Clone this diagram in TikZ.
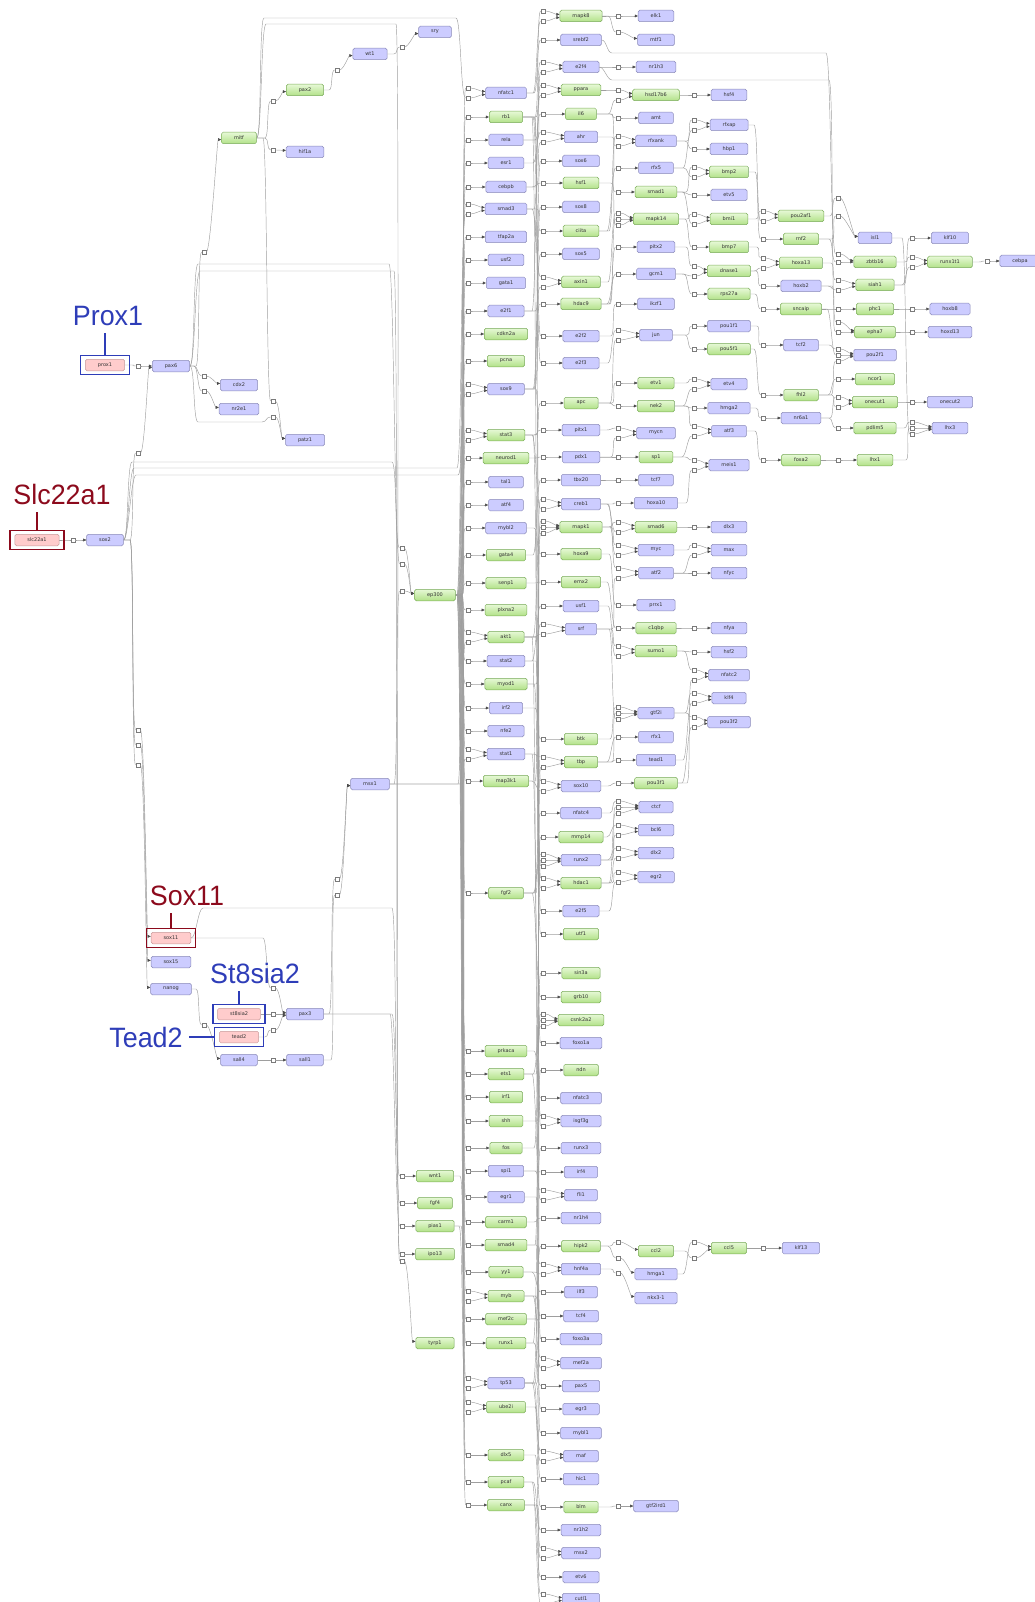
\documentclass[tikz,border=0pt]{standalone}
\usepackage{fontspec}
\usepackage{xcolor}
\usepackage{tikz}
\usetikzlibrary{arrows.meta,fit}
\newfontfamily\genefont{DejaVu Sans}
\newfontfamily\tagfont[FakeStretch=0.96]{Liberation Sans}
\newcommand{\genesize}{\genefont\fontsize{5pt}{6pt}\selectfont}
\newcommand{\tagsize}{\tagfont\fontsize{28pt}{30pt}\selectfont}
\definecolor{GNLav}{HTML}{CCCCFF}
\definecolor{GNLavLine}{HTML}{8A8AB8}
\definecolor{GNGreenTop}{HTML}{E6F8D6}
\definecolor{GNGreenBot}{HTML}{B2E288}
\definecolor{GNGreenLine}{HTML}{7DAF58}
\definecolor{GNPink}{HTML}{FFCCCC}
\definecolor{GNPinkLine}{HTML}{C89A9A}
\definecolor{GNWire}{HTML}{9E9E9E}
\definecolor{GNProcLine}{HTML}{7A7A7A}
\definecolor{GNTip}{HTML}{4A4A4A}
\definecolor{GNMarkBlue}{HTML}{2E3DB8}
\definecolor{GNMarkRed}{HTML}{8C0A1C}
\pgfdeclarelayer{back}
\pgfsetlayers{back,main}
\newcount\portno
% [shift of the square]{from}{to}{x of the square}{gap before the square}
\newcommand{\flow}[5][0]{%
  \global\advance\portno by 1
  \node[proc,yshift={-(#1)}] (q\the\portno) at (#4,0 |- #3) {};
  \draw[wire] (#2.east) -- ({#4-#5},0 |- #2.east) .. controls +(4,0) and +(-4,0) .. (q\the\portno.west);
  \draw[wire,feed] (q\the\portno.east) .. controls +(4,0) and +(-4,0) .. ([yshift={-1.6*sign(#1)}]#3.west);
}
% same, but routed along a track: {x start}{track y}{x end}
\newcommand{\relay}[7][0]{%
  \global\advance\portno by 1
  \node[proc,yshift={-(#1)}] (q\the\portno) at (#4,0 |- #3) {};
  \draw[wire] (#2.east) .. controls +(5,0) and +(-5,0) .. (#5,#6) -- (#7,#6) .. controls +(5,0) and +(-5,0) .. (q\the\portno.west);
  \draw[wire,feed] (q\the\portno.east) .. controls +(4,0) and +(-4,0) .. ([yshift={-1.6*sign(#1)}]#3.west);
}

\begin{document}
\begin{tikzpicture}[x=1pt,y=-1pt,
  lav/.style={draw=GNLavLine,fill=GNLav,rounded corners=1.6pt,line width=0.5pt,minimum height=11.5pt,minimum width=30pt,inner xsep=12.5pt,inner ysep=0pt,text=black!80,font=\genesize},
  grn/.style={lav,draw=GNGreenLine,top color=GNGreenTop,bottom color=GNGreenBot},
  pnk/.style={lav,draw=GNPinkLine,fill=GNPink},
  proc/.style={draw=GNProcLine,fill=white,line width=0.4pt,minimum size=4.5pt,inner sep=0pt},
  wire/.style={draw=GNWire,line width=0.45pt},
  feed/.style={-{Triangle[length=3.2pt,width=2.8pt,color=GNTip]}},
  markbox/.style={draw=#1,line width=1.5pt,inner xsep=4.5pt,inner ysep=3.7pt},
  marktag/.style={text=#1,font=\tagsize,inner xsep=6pt,inner ysep=8pt,anchor=base}]
\path[use as bounding box] (0,0) rectangle (1034,1602);
% left part
\node[pnk] (slc22a1) at (37,540) {slc22a1};
\node[pnk] (prox1) at (105,365) {prox1};
\node[lav] (sox2) at (105,540) {sox2};
\node[lav] (pax6) at (171,366) {pax6};
\node[pnk] (sox11) at (171,938) {sox11};
\node[lav] (sox15) at (171,962) {sox15};
\node[lav] (nanog) at (171,989) {nanog};
\node[grn] (mitf) at (239,138) {mitf};
\node[lav] (cdx2) at (239,385) {cdx2};
\node[lav] (nr2e1) at (239,409) {nr2e1};
\node[pnk] (st8sia2) at (239,1014) {st8sia2};
\node[pnk] (tead2) at (239,1037) {tead2};
\node[lav] (sall4) at (239,1060) {sall4};
\node[grn] (pax2) at (305,90) {pax2};
\node[lav] (hif1a) at (305,152) {hif1a};
\node[lav] (patz1) at (305,440) {patz1};
\node[lav] (pax3) at (305,1014) {pax3};
\node[lav] (sall1) at (305,1060) {sall1};
\node[lav] (wt1) at (370,54) {wt1};
\node[lav] (msx1) at (370,784) {msx1};
\node[lav] (sry) at (435,32) {sry};
\node[grn] (ep300) at (435,595) {ep300};
\node[grn] (wnt1) at (435,1176) {wnt1};
\node[grn] (fgf4) at (435,1203) {fgf4};
\node[grn] (pias1) at (435,1226) {pias1};
\node[grn] (ipo13) at (435,1254) {ipo13};
\node[grn] (tyrp1) at (435,1343) {tyrp1};
% column A
\node[lav] (nfatc1) at (506,93) {nfatc1};
\node[grn] (rb1) at (506,117) {rb1};
\node[lav] (rela) at (506,140) {rela};
\node[lav] (esr1) at (506,163) {esr1};
\node[lav] (cebpb) at (506,187) {cebpb};
\node[lav] (smad3) at (506,209) {smad3};
\node[lav] (tfap2a) at (506,237) {tfap2a};
\node[lav] (usf2) at (506,260) {usf2};
\node[lav] (gata1) at (506,283) {gata1};
\node[lav] (e2f1) at (506,311) {e2f1};
\node[grn] (cdkn2a) at (506,334) {cdkn2a};
\node[grn] (pcna) at (506,361) {pcna};
\node[lav] (sox9) at (506,389) {sox9};
\node[grn] (stat3) at (506,435) {stat3};
\node[grn] (neurod1) at (506,458) {neurod1};
\node[lav] (tal1) at (506,482) {tal1};
\node[lav] (atf4) at (506,505) {atf4};
\node[lav] (mybl2) at (506,528) {mybl2};
\node[grn] (gata4) at (506,555) {gata4};
\node[grn] (senp1) at (506,583) {senp1};
\node[grn] (plxna2) at (506,610) {plxna2};
\node[grn] (akt1) at (506,637) {akt1};
\node[lav] (stat2) at (506,661) {stat2};
\node[grn] (myod1) at (506,684) {myod1};
\node[lav] (irf2) at (506,708) {irf2};
\node[lav] (nfe2) at (506,731) {nfe2};
\node[lav] (stat1) at (506,754) {stat1};
\node[grn] (map3k1) at (506,781) {map3k1};
\node[grn] (fgf2) at (506,893) {fgf2};
\node[grn] (prkaca) at (506,1051) {prkaca};
\node[grn] (ets1) at (506,1074) {ets1};
\node[grn] (irf1) at (506,1097) {irf1};
\node[grn] (shh) at (506,1121) {shh};
\node[grn] (fos) at (506,1148) {fos};
\node[lav] (spi1) at (506,1171) {spi1};
\node[lav] (egr1) at (506,1197) {egr1};
\node[grn] (carm1) at (506,1222) {carm1};
\node[grn] (smad4) at (506,1245) {smad4};
\node[grn] (yy1) at (506,1272) {yy1};
\node[grn] (myb) at (506,1296) {myb};
\node[grn] (mef2c) at (506,1319) {mef2c};
\node[grn] (runx1) at (506,1343) {runx1};
\node[lav] (tp53) at (506,1383) {tp53};
\node[grn] (ube2i) at (506,1407) {ube2i};
\node[grn] (dlx5) at (506,1455) {dlx5};
\node[grn] (pcaf) at (506,1482) {pcaf};
\node[grn] (canx) at (506,1505) {canx};
% column B
\node[grn] (mapk8) at (581,16) {mapk8};
\node[lav] (srebf2) at (581,40) {srebf2};
\node[lav] (e2f4) at (581,67) {e2f4};
\node[grn] (ppara) at (581,90) {ppara};
\node[grn] (il6) at (581,114) {il6};
\node[lav] (ahr) at (581,137) {ahr};
\node[lav] (sox6) at (581,161) {sox6};
\node[grn] (hsf1) at (581,183) {hsf1};
\node[lav] (sox8) at (581,207) {sox8};
\node[grn] (ciita) at (581,231) {ciita};
\node[lav] (sox5) at (581,254) {sox5};
\node[grn] (axin1) at (581,282) {axin1};
\node[grn] (hdac9) at (581,304) {hdac9};
\node[lav] (e2f2) at (581,336) {e2f2};
\node[lav] (e2f3) at (581,363) {e2f3};
\node[grn] (apc) at (581,403) {apc};
\node[lav] (pitx1) at (581,430) {pitx1};
\node[lav] (pdx1) at (581,457) {pdx1};
\node[lav] (tbx20) at (581,480) {tbx20};
\node[lav] (creb1) at (581,504) {creb1};
\node[grn] (mapk1) at (581,527) {mapk1};
\node[grn] (hoxa9) at (581,554) {hoxa9};
\node[grn] (emx2) at (581,582) {emx2};
\node[lav] (usf1) at (581,606) {usf1};
\node[lav] (srf) at (581,629) {srf};
\node[grn] (btk) at (581,739) {btk};
\node[grn] (tbp) at (581,762) {tbp};
\node[lav] (sox10) at (581,786) {sox10};
\node[lav] (nfatc4) at (581,813) {nfatc4};
\node[grn] (mmp14) at (581,837) {mmp14};
\node[lav] (runx2) at (581,860) {runx2};
\node[grn] (hdac1) at (581,883) {hdac1};
\node[lav] (e2f5) at (581,911) {e2f5};
\node[grn] (utf1) at (581,934) {utf1};
\node[grn] (sin3a) at (581,973) {sin3a};
\node[grn] (grb10) at (581,997) {grb10};
\node[grn] (csnk2a2) at (581,1020) {csnk2a2};
\node[lav] (foxo1a) at (581,1043) {foxo1a};
\node[grn] (ndn) at (581,1070) {ndn};
\node[lav] (nfatc3) at (581,1098) {nfatc3};
\node[lav] (isgf3g) at (581,1121) {isgf3g};
\node[lav] (runx3) at (581,1148) {runx3};
\node[lav] (irf4) at (581,1172) {irf4};
\node[lav] (fli1) at (581,1195) {fli1};
\node[lav] (nr1h4) at (581,1218) {nr1h4};
\node[grn] (hipk2) at (581,1246) {hipk2};
\node[lav] (hnf4a) at (581,1269) {hnf4a};
\node[lav] (ilf3) at (581,1292) {ilf3};
\node[lav] (tcf4) at (581,1316) {tcf4};
\node[lav] (foxo3a) at (581,1339) {foxo3a};
\node[lav] (mef2a) at (581,1363) {mef2a};
\node[lav] (pax5) at (581,1386) {pax5};
\node[lav] (egr3) at (581,1409) {egr3};
\node[lav] (mybl1) at (581,1433) {mybl1};
\node[lav] (maf) at (581,1456) {maf};
\node[lav] (hic1) at (581,1479) {hic1};
\node[grn] (blm) at (581,1507) {blm};
\node[lav] (nr1h2) at (581,1530) {nr1h2};
\node[lav] (msx2) at (581,1553) {msx2};
\node[lav] (etv6) at (581,1577) {etv6};
\node[lav] (cutl1) at (581,1599) {cutl1};
% column C
\node[lav] (elk1) at (656,16) {elk1};
\node[lav] (mtf1) at (656,40) {mtf1};
\node[lav] (nr1h3) at (656,67) {nr1h3};
\node[grn] (hsd17b6) at (656,95) {hsd17b6};
\node[lav] (amt) at (656,118) {amt};
\node[lav] (rfxank) at (656,141) {rfxank};
\node[lav] (rfx5) at (656,168) {rfx5};
\node[grn] (smad1) at (656,192) {smad1};
\node[grn] (mapk14) at (656,219) {mapk14};
\node[lav] (pitx2) at (656,247) {pitx2};
\node[lav] (gcm1) at (656,274) {gcm1};
\node[lav] (ikzf1) at (656,304) {ikzf1};
\node[lav] (jun) at (656,335) {jun};
\node[grn] (etv1) at (656,383) {etv1};
\node[grn] (nek2) at (656,406) {nek2};
\node[lav] (mycn) at (656,433) {mycn};
\node[grn] (sp1) at (656,457) {sp1};
\node[lav] (tcf7) at (656,480) {tcf7};
\node[lav] (hoxa10) at (656,503) {hoxa10};
\node[grn] (smad6) at (656,527) {smad6};
\node[lav] (myc) at (656,550) {myc};
\node[lav] (atf2) at (656,573) {atf2};
\node[lav] (prrx1) at (656,605) {prrx1};
\node[grn] (c1qbp) at (656,628) {c1qbp};
\node[grn] (sumo1) at (656,651) {sumo1};
\node[lav] (gtf2i) at (656,713) {gtf2i};
\node[lav] (rfx1) at (656,737) {rfx1};
\node[lav] (tead1) at (656,760) {tead1};
\node[grn] (pou3f1) at (656,783) {pou3f1};
\node[lav] (ctcf) at (656,807) {ctcf};
\node[lav] (bcl6) at (656,830) {bcl6};
\node[lav] (dlx2) at (656,853) {dlx2};
\node[lav] (egr2) at (656,877) {egr2};
\node[grn] (ccl2) at (656,1251) {ccl2};
\node[lav] (hmga1) at (656,1274) {hmga1};
\node[lav] (nkx31) at (656,1298) {nkx3-1};
\node[lav] (gtf2ird1) at (656,1506) {gtf2ird1};
% column D
\node[lav] (hsf4) at (729,95) {hsf4};
\node[lav] (rfxap) at (729,125) {rfxap};
\node[lav] (hbp1) at (729,149) {hbp1};
\node[grn] (bmp2) at (729,172) {bmp2};
\node[lav] (etv5) at (729,195) {etv5};
\node[grn] (bmi1) at (729,219) {bmi1};
\node[grn] (bmp7) at (729,247) {bmp7};
\node[grn] (dnase1) at (729,271) {dnase1};
\node[grn] (rps27a) at (729,294) {rps27a};
\node[lav] (pou1f1) at (729,326) {pou1f1};
\node[grn] (pou5f1) at (729,349) {pou5f1};
\node[lav] (etv4) at (729,384) {etv4};
\node[lav] (hmga2) at (729,408) {hmga2};
\node[lav] (atf3) at (729,431) {atf3};
\node[lav] (meis1) at (729,465) {meis1};
\node[lav] (dlx3) at (729,527) {dlx3};
\node[lav] (max) at (729,550) {max};
\node[lav] (nfyc) at (729,573) {nfyc};
\node[lav] (nfya) at (729,628) {nfya};
\node[lav] (hsf2) at (729,652) {hsf2};
\node[lav] (nfatc2) at (729,675) {nfatc2};
\node[lav] (klf4) at (729,698) {klf4};
\node[lav] (pou3f2) at (729,722) {pou3f2};
\node[grn] (ccl5) at (729,1248) {ccl5};
% column E
\node[grn] (pou2af1) at (801,216) {pou2af1};
\node[grn] (rnf2) at (801,239) {rnf2};
\node[grn] (hoxa13) at (801,263) {hoxa13};
\node[lav] (hoxb2) at (801,286) {hoxb2};
\node[grn] (sncaip) at (801,309) {sncaip};
\node[lav] (tcf2) at (801,345) {tcf2};
\node[grn] (fhl2) at (801,395) {fhl2};
\node[lav] (nr6a1) at (801,418) {nr6a1};
\node[grn] (foxa2) at (801,460) {foxa2};
\node[lav] (klf13) at (801,1248) {klf13};
% column F
\node[lav] (isl1) at (875,238) {isl1};
\node[grn] (zbtb16) at (875,262) {zbtb16};
\node[grn] (siah1) at (875,285) {siah1};
\node[grn] (phc1) at (875,309) {phc1};
\node[grn] (epha7) at (875,332) {epha7};
\node[lav] (pou2f1) at (875,355) {pou2f1};
\node[grn] (ncor1) at (875,379) {ncor1};
\node[grn] (onecut1) at (875,402) {onecut1};
\node[grn] (pdlim5) at (875,428) {pdlim5};
\node[grn] (lhx1) at (875,460) {lhx1};
% columns G and H
\node[lav] (klf10) at (950,238) {klf10};
\node[grn] (runx1t1) at (950,262) {runx1t1};
\node[lav] (hoxb8) at (950,309) {hoxb8};
\node[lav] (hoxd13) at (950,332) {hoxd13};
\node[lav] (onecut2) at (950,402) {onecut2};
\node[lav] (lhx3) at (950,428) {lhx3};
\node[lav] (cebpa) at (1020,261) {cebpa};
% marked genes
\node[markbox=GNMarkBlue,fit=(prox1)] (prox1box) {};
\node[marktag=GNMarkBlue] (prox1tag) at (108,325) {Prox1};
\draw[GNMarkBlue,line width=1.5pt] (prox1box.north) -- (prox1box.north |- prox1tag.south);
\node[markbox=GNMarkRed,fit=(slc22a1)] (slc22a1box) {};
\node[marktag=GNMarkRed] (slc22a1tag) at (62,504) {Slc22a1};
\draw[GNMarkRed,line width=1.5pt] (slc22a1box.north) -- (slc22a1box.north |- slc22a1tag.south);
\node[markbox=GNMarkRed,fit=(sox11)] (sox11box) {};
\node[marktag=GNMarkRed] (sox11tag) at (187,905) {Sox11};
\draw[GNMarkRed,line width=1.5pt] (sox11box.north) -- (sox11box.north |- sox11tag.south);
\node[markbox=GNMarkBlue,fit=(st8sia2)] (st8sia2box) {};
\node[marktag=GNMarkBlue] (st8sia2tag) at (255,983) {St8sia2};
\draw[GNMarkBlue,line width=1.5pt] (st8sia2box.north) -- (st8sia2box.north |- st8sia2tag.south);
\node[markbox=GNMarkBlue,fit=(tead2)] (tead2box) {};
\node[marktag=GNMarkBlue] (tead2tag) at (146,1047) {Tead2};
\draw[GNMarkBlue,line width=1.5pt] (tead2box.west) -- (tead2tag.east |- tead2box.west);

\begin{pgfonlayer}{back}
% left part
\flow{slc22a1}{sox2}{73}{8}
\flow{prox1}{pax6}{138}{6} \flow[87]{sox2}{pax6}{138}{8}
\flow[-208]{sox2}{sox11}{138}{8} \flow[-217]{sox2}{sox15}{138}{8} \flow[-224]{sox2}{nanog}{138}{8}
\flow[114]{pax6}{mitf}{204}{8} \flow[-9]{pax6}{cdx2}{204}{10} \flow[-18]{pax6}{nr2e1}{204}{10}
\flow[-35]{nanog}{sall4}{204}{8}
\flow[11]{mitf}{pax2}{273}{8} \flow[-2]{mitf}{hif1a}{273}{8} \flow[-39]{mitf}{patz1}{273}{10}
\relay[-23]{pax6}{patz1}{273}{198}{422}{262}
\flow{st8sia2}{pax3}{273}{8} \flow[16]{tead2}{pax3}{273}{8} \flow[-26]{sox11}{pax3}{273}{10}
\flow{sall4}{sall1}{273}{8}
\flow[16]{pax2}{wt1}{337}{8}
\flow[95]{pax3}{msx1}{337}{8} \flow[111]{sall1}{msx1}{337}{6}
\flow[15]{wt1}{sry}{402}{8}
\relay[-47]{sox2}{ep300}{402}{132}{462}{392}
\relay[-31]{pax6}{ep300}{402}{198}{264}{389}
\flow[-4]{msx1}{ep300}{402}{8}
\flow{pax3}{wnt1}{402}{10} \flow{pax3}{pias1}{402}{12}
\relay{sox11}{fgf4}{402}{203}{908}{392}
\relay{pax6}{ipo13}{402}{200}{271}{394}
\relay[-82]{mitf}{tyrp1}{402}{266}{24}{396}
% column A
\flow[-5]{ep300}{nfatc1}{468}{6} \relay[5]{mitf}{nfatc1}{468}{264}{18}{456}
\flow{ep300}{rb1}{468}{7} \flow{ep300}{rela}{468}{8} \flow{ep300}{esr1}{468}{9}
\flow{ep300}{cebpb}{468}{10}
\flow[-5]{ep300}{smad3}{468}{11} \relay[5]{sox2}{smad3}{468}{134}{468}{457}
\flow{ep300}{tfap2a}{468}{6} \flow{ep300}{usf2}{468}{7} \flow{ep300}{gata1}{468}{8}
\flow{ep300}{e2f1}{468}{9} \flow{ep300}{cdkn2a}{468}{10} \flow{ep300}{pcna}{468}{11}
\flow[-5]{ep300}{sox9}{468}{6} \relay[5]{sox2}{sox9}{468}{136}{475}{458}
\flow[-5]{ep300}{stat3}{468}{7} \flow[5]{msx1}{stat3}{468}{10}
\flow{ep300}{neurod1}{468}{8} \flow{ep300}{tal1}{468}{9} \flow{ep300}{atf4}{468}{10}
\flow{ep300}{mybl2}{468}{11} \flow{ep300}{gata4}{468}{6} \flow{ep300}{senp1}{468}{7}
\flow{ep300}{plxna2}{468}{8}
\flow[-5]{ep300}{akt1}{468}{9} \flow[5]{msx1}{akt1}{468}{8}
\flow{ep300}{stat2}{468}{10} \flow{ep300}{myod1}{468}{11} \flow{ep300}{irf2}{468}{6}
\flow{ep300}{nfe2}{468}{7}
\flow[-5]{ep300}{stat1}{468}{8} \flow[5]{msx1}{stat1}{468}{6}
\flow{ep300}{map3k1}{468}{9} \flow{ep300}{fgf2}{468}{10} \flow{ep300}{prkaca}{468}{11}
\flow{ep300}{ets1}{468}{6} \flow{ep300}{irf1}{468}{7} \flow{ep300}{shh}{468}{8}
\flow{ep300}{fos}{468}{9} \flow{ep300}{spi1}{468}{10} \flow{ep300}{egr1}{468}{11}
\flow{ep300}{carm1}{468}{6} \flow{ep300}{smad4}{468}{7} \flow{ep300}{yy1}{468}{8}
\flow[-5]{ep300}{myb}{468}{9} \flow[5]{wnt1}{myb}{468}{8}
\flow{ep300}{mef2c}{468}{10} \flow{ep300}{runx1}{468}{11}
\flow[-5]{ep300}{tp53}{468}{6} \flow[5]{pias1}{tp53}{468}{9}
\flow[-5]{ep300}{ube2i}{468}{7} \flow[5]{pias1}{ube2i}{468}{7}
\flow{ep300}{dlx5}{468}{8} \flow{ep300}{pcaf}{468}{9} \flow{ep300}{canx}{468}{10}
% column B
\flow[-5]{rb1}{mapk8}{543}{8} \flow[5]{nfatc1}{mapk8}{543}{10}
\flow{nfatc1}{srebf2}{543}{9}
\flow[-5]{rb1}{e2f4}{543}{7} \flow[5]{e2f1}{e2f4}{543}{11}
\flow[-5]{smad3}{ppara}{543}{9} \flow[5]{rela}{ppara}{543}{6}
\flow{rela}{il6}{543}{8}
\flow[-5]{esr1}{ahr}{543}{10} \flow[5]{cebpb}{ahr}{543}{7}
\flow{sox9}{sox6}{543}{9} \flow{cebpb}{hsf1}{543}{11} \flow{sox9}{sox8}{543}{8}
\flow{smad3}{ciita}{543}{6} \flow{sox9}{sox5}{543}{10}
\flow[-5]{smad3}{axin1}{543}{11} \flow[5]{e2f1}{axin1}{543}{8}
\flow{e2f1}{hdac9}{543}{6} \flow{rb1}{e2f2}{543}{9} \flow{rb1}{e2f3}{543}{10}
\flow{stat3}{apc}{543}{7} \flow{stat3}{pitx1}{543}{9} \flow{neurod1}{pdx1}{543}{7}
\flow{gata4}{tbx20}{543}{10}
\flow[-5]{akt1}{creb1}{543}{6} \flow[5]{stat3}{creb1}{543}{11}
\flow[-6]{map3k1}{mapk1}{543}{8} \flow{akt1}{mapk1}{543}{10} \flow[6]{fgf2}{mapk1}{543}{7}
\flow{mybl2}{hoxa9}{543}{9} \flow{senp1}{emx2}{543}{8} \flow{stat2}{usf1}{543}{11}
\flow[-5]{myod1}{srf}{543}{7} \flow[5]{akt1}{srf}{543}{9}
\flow{irf2}{btk}{543}{8}
\flow[-5]{stat1}{tbp}{543}{10} \flow[5]{tp53}{tbp}{543}{6}
\flow[-5]{sox9}{sox10}{543}{7} \flow[5]{map3k1}{sox10}{543}{11}
\flow{fgf2}{nfatc4}{543}{9} \flow{ets1}{mmp14}{543}{7}
\flow[-6]{fgf2}{runx2}{543}{10} \flow{smad4}{runx2}{543}{8} \flow[6]{akt1}{runx2}{543}{6}
\flow[-5]{rb1}{hdac1}{543}{11} \flow[5]{myod1}{hdac1}{543}{9}
\flow{rb1}{e2f5}{543}{8} \flow{stat3}{utf1}{543}{10} \flow{mef2c}{sin3a}{543}{7}
\flow{fgf2}{grb10}{543}{11}
\flow[-6]{fos}{csnk2a2}{543}{9} \flow{shh}{csnk2a2}{543}{6} \flow[6]{ets1}{csnk2a2}{543}{10}
\flow{akt1}{foxo1a}{543}{7} \flow{tp53}{ndn}{543}{8} \flow{prkaca}{nfatc3}{543}{9}
\flow[-5]{stat1}{isgf3g}{543}{11} \flow[5]{stat2}{isgf3g}{543}{7}
\flow{runx1}{runx3}{543}{10} \flow{spi1}{irf4}{543}{6}
\flow[-5]{spi1}{fli1}{543}{8} \flow[5]{ets1}{fli1}{543}{11}
\flow{carm1}{nr1h4}{543}{9} \flow{tp53}{hipk2}{543}{10}
\flow[-5]{smad4}{hnf4a}{543}{7} \flow[5]{yy1}{hnf4a}{543}{9}
\flow{yy1}{ilf3}{543}{11} \flow{myb}{tcf4}{543}{8} \flow{akt1}{foxo3a}{543}{11}
\flow[-5]{mef2c}{mef2a}{543}{6} \flow[5]{myb}{mef2a}{543}{10}
\flow{runx1}{pax5}{543}{9} \flow{egr1}{egr3}{543}{7} \flow{myb}{mybl1}{543}{6}
\flow[-5]{tp53}{maf}{543}{11} \flow[5]{ube2i}{maf}{543}{8}
\flow{tp53}{hic1}{543}{7} \flow{tp53}{blm}{543}{9} \flow{pcaf}{nr1h2}{543}{10}
\flow[-5]{dlx5}{msx2}{543}{8} \flow[5]{canx}{msx2}{543}{6}
\flow{canx}{etv6}{543}{9}
\flow[-5]{canx}{cutl1}{543}{7} \flow[5]{pcaf}{cutl1}{543}{11}
% column C
\flow{mapk8}{elk1}{618}{8} \flow[-8]{mapk8}{mtf1}{618}{10}
\flow{e2f4}{nr1h3}{618}{9}
\flow[-5]{ppara}{hsd17b6}{618}{7} \flow[5]{il6}{hsd17b6}{618}{10}
\flow{il6}{amt}{618}{8}
\flow[-5]{ciita}{rfxank}{618}{9} \flow[5]{ahr}{rfxank}{618}{6}
\flow{ciita}{rfx5}{618}{11} \flow{hsf1}{smad1}{618}{7}
\flow[-6]{axin1}{mapk14}{618}{10} \flow{hdac9}{mapk14}{618}{8} \flow[6]{il6}{mapk14}{618}{6}
\flow{hdac9}{pitx2}{618}{9} \flow{hdac9}{gcm1}{618}{11} \flow{e2f2}{ikzf1}{618}{7}
\flow[-5]{e2f3}{jun}{618}{10} \flow[5]{apc}{jun}{618}{8}
\flow{apc}{etv1}{618}{6} \flow{apc}{nek2}{618}{9}
\flow[-5]{pitx1}{mycn}{618}{11} \flow[5]{pdx1}{mycn}{618}{7}
\flow{pdx1}{sp1}{618}{10} \flow{tbx20}{tcf7}{618}{8} \flow{creb1}{hoxa10}{618}{6}
\flow[-5]{mapk1}{smad6}{618}{9} \flow[5]{creb1}{smad6}{618}{11}
\flow[-5]{mapk1}{myc}{618}{7} \flow[5]{creb1}{myc}{618}{10}
\flow[-5]{mapk1}{atf2}{618}{8} \flow[5]{srf}{atf2}{618}{6}
\flow{hoxa9}{prrx1}{618}{9} \flow{emx2}{c1qbp}{618}{11}
\flow[-5]{srf}{sumo1}{618}{7} \flow[5]{usf1}{sumo1}{618}{10}
\flow[-6]{btk}{gtf2i}{618}{8} \flow{tbp}{gtf2i}{618}{6} \flow[6]{srf}{gtf2i}{618}{9}
\flow{tbp}{rfx1}{618}{11} \flow{tbp}{tead1}{618}{7} \flow{sox10}{pou3f1}{618}{10}
\flow[-6]{nfatc4}{ctcf}{618}{8} \flow{runx2}{ctcf}{618}{6} \flow[6]{hdac1}{ctcf}{618}{9}
\flow[-5]{mmp14}{bcl6}{618}{11} \flow[5]{runx2}{bcl6}{618}{7}
\flow[-5]{runx2}{dlx2}{618}{10} \flow[5]{hdac1}{dlx2}{618}{8}
\flow[-5]{hdac1}{egr2}{618}{6} \flow[5]{e2f5}{egr2}{618}{9}
\flow[-9]{hipk2}{ccl2}{618}{8} \flow[-16]{hipk2}{hmga1}{618}{10}
\flow[-25]{hnf4a}{nkx31}{618}{7}
\flow{blm}{gtf2ird1}{618}{8}
% column D
\flow{hsd17b6}{hsf4}{694}{9}
\flow[-5]{rfxank}{rfxap}{694}{7} \flow[5]{rfx5}{rfxap}{694}{11}
\flow{rfxank}{hbp1}{694}{9}
\flow[-5]{smad1}{bmp2}{694}{8} \flow[5]{rfx5}{bmp2}{694}{10}
\flow{smad1}{etv5}{694}{12}
\flow[-5]{mapk14}{bmi1}{694}{7} \flow[5]{smad1}{bmi1}{694}{11}
\flow{mapk14}{bmp7}{694}{9}
\flow[-5]{pitx2}{dnase1}{694}{8} \flow[5]{gcm1}{dnase1}{694}{12}
\flow{gcm1}{rps27a}{694}{10} \flow{jun}{pou1f1}{694}{7} \flow{jun}{pou5f1}{694}{9}
\flow[-5]{etv1}{etv4}{694}{8} \flow[5]{nek2}{etv4}{694}{11}
\flow{nek2}{hmga2}{694}{10}
\flow[-5]{nek2}{atf3}{694}{7} \flow[5]{sp1}{atf3}{694}{12}
\flow[-5]{sp1}{meis1}{694}{9} \flow[5]{hoxa10}{meis1}{694}{8}
\flow{smad6}{dlx3}{694}{10}
\flow[-5]{myc}{max}{694}{7} \flow[5]{atf2}{max}{694}{11}
\flow{atf2}{nfyc}{694}{9} \flow{c1qbp}{nfya}{694}{8} \flow{sumo1}{hsf2}{694}{12}
\flow[-5]{sumo1}{nfatc2}{694}{10} \flow[5]{pou3f1}{nfatc2}{694}{7}
\flow[-5]{gtf2i}{klf4}{694}{9} \flow[5]{tead1}{klf4}{694}{11}
\flow[-5]{gtf2i}{pou3f2}{694}{8} \flow[5]{pou3f1}{pou3f2}{694}{12}
\flow[10]{ccl2}{ccl5}{694}{9} \flow[-6]{hmga1}{ccl5}{694}{11}
% column E
\flow[-5]{bmi1}{pou2af1}{763}{7} \flow[5]{rfxap}{pou2af1}{763}{9}
\flow{bmp2}{rnf2}{763}{8}
\flow[-5]{bmp7}{hoxa13}{763}{6} \flow[5]{dnase1}{hoxa13}{763}{9}
\flow{dnase1}{hoxb2}{763}{7} \flow{rps27a}{sncaip}{763}{8} \flow{pou1f1}{tcf2}{763}{6}
\flow{pou5f1}{fhl2}{763}{9} \flow{hmga2}{nr6a1}{763}{7} \flow{atf3}{foxa2}{763}{8}
\flow{ccl5}{klf13}{763}{8}
% column F
\flow[-40]{pou2af1}{isl1}{838}{8} \flow[-22]{rnf2}{isl1}{838}{6}
\flow{rnf2}{zbtb16}{838}{9}
\flow[-5]{hoxa13}{siah1}{838}{7} \flow[5]{hoxb2}{siah1}{838}{10}
\flow{sncaip}{phc1}{838}{8} \flow{hoxb2}{epha7}{838}{6}
\flow[-6]{tcf2}{pou2f1}{838}{9} \flow{sncaip}{pou2f1}{838}{11} \flow[6]{fhl2}{pou2f1}{838}{7}
\flow{fhl2}{ncor1}{838}{10}
\flow[-5]{nr6a1}{onecut1}{838}{8} \flow[5]{fhl2}{onecut1}{838}{6}
\flow{nr6a1}{pdlim5}{838}{9} \flow{foxa2}{lhx1}{838}{7}
\relay[-8]{srebf2}{zbtb16}{838}{612}{53}{826}
\relay[-10]{e2f4}{epha7}{838}{612}{80}{829}
% columns G and H
\flow{siah1}{klf10}{912}{8}
\flow[-5]{zbtb16}{runx1t1}{912}{7} \flow[5]{siah1}{runx1t1}{912}{10}
\flow{phc1}{hoxb8}{912}{8} \flow{epha7}{hoxd13}{912}{7} \flow{onecut1}{onecut2}{912}{9}
\flow[-6]{pdlim5}{lhx3}{912}{8} \flow{lhx1}{lhx3}{912}{6} \flow[6]{isl1}{lhx3}{912}{10}
\flow{runx1t1}{cebpa}{987}{8}
\end{pgfonlayer}
\end{tikzpicture}
\end{document}
